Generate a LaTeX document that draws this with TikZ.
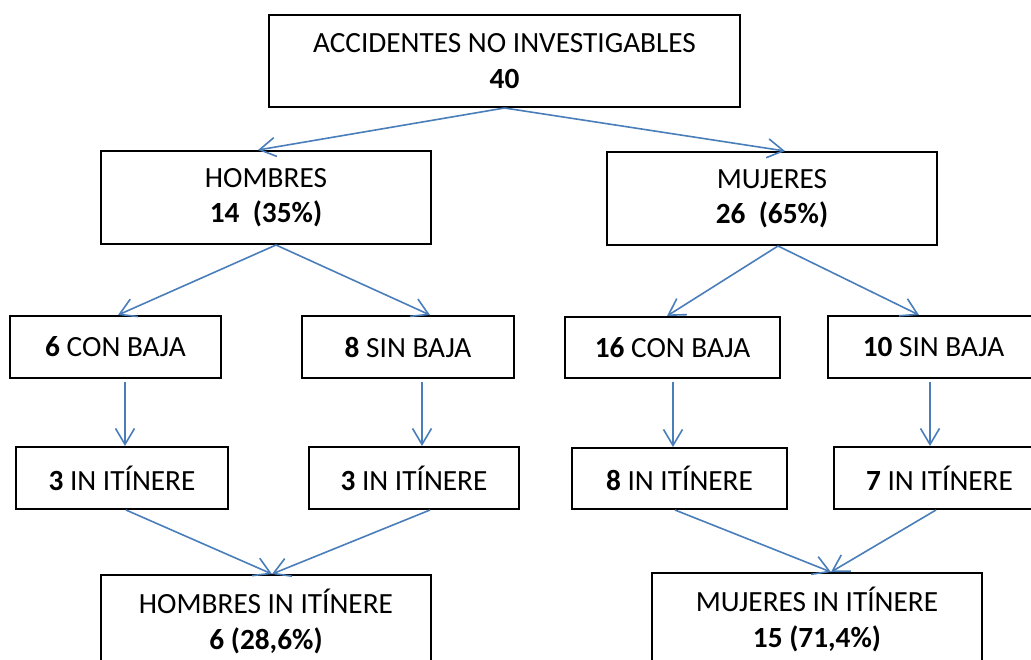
\documentclass[tikz,border=0pt]{standalone}
\usepackage{fontspec}
\setmainfont{Carlito}
\usetikzlibrary{arrows.meta}
\definecolor{arrowblue}{HTML}{4A7EBB}
\tikzset{
  box/.style={draw=black, line width=2pt, fill=white, align=center, inner sep=0pt,
    font=\fontsize{29.3}{35.5}\selectfont},
  conn/.style={draw=arrowblue, line width=1.6pt,
    -{Straight Barb[length=16pt,width=19pt,line width=1.6pt]}},
}
\begin{document}
\begin{tikzpicture}[x=1pt,y=-1pt]
\useasboundingbox (0,0) rectangle (1031,659);
\clip (0,0) rectangle (1031,659);
\fill[white] (0,0) rectangle (1031,659);
% nodes
\node[box, minimum width=471pt, minimum height=92pt] (top) at (504.5,61) {ACCIDENTES NO INVESTIGABLES\\\textbf{40}};
\node[box, minimum width=330pt, minimum height=93pt] (hom) at (266,197.5) {HOMBRES\\\textbf{14~~(35\%)}};
\node[box, minimum width=330pt, minimum height=93pt] (muj) at (772,198.5) {MUJERES\\\textbf{26~~(65\%)}};
\node[box, minimum width=211pt, minimum height=62pt] (a1) at (115.5,347) {\textbf{6} CON BAJA};
\node[box, minimum width=212pt, minimum height=62pt] (a2) at (408,347) {\textbf{8} SIN BAJA};
\node[box, minimum width=215pt, minimum height=61pt] (a3) at (672.5,347.5) {\textbf{16} CON BAJA};
\node[box, minimum width=211pt, minimum height=62pt] (a4) at (933.5,347) {\textbf{10} SIN BAJA};
\node[box, minimum width=212pt, minimum height=62pt] (b1) at (122,478) {\textbf{3} IN ITÍNERE};
\node[box, minimum width=210pt, minimum height=62pt] (b2) at (414,478) {\textbf{3} IN ITÍNERE};
\node[box, minimum width=215pt, minimum height=61pt] (b3) at (679.5,478.5) {\textbf{8} IN ITÍNERE};
\node[box, minimum width=211pt, minimum height=62pt] (b4) at (939.5,478) {\textbf{7} IN ITÍNERE};
\node[box, minimum width=330pt, minimum height=93pt] (c1) at (266,621.5) {HOMBRES IN ITÍNERE\\\textbf{6 (28,6\%)}};
\node[box, minimum width=330pt, minimum height=93pt] (c2) at (817,619.5) {MUJERES IN ITÍNERE\\\textbf{15 (71,4\%)}};
% connectors
\draw[conn] (top.south) -- ([xshift=-8pt]hom.north);
\draw[conn] (top.south) -- ([xshift=13pt]muj.north);
\draw[conn] ([xshift=10pt]hom.south) -- ([xshift=2.5pt]a1.north);
\draw[conn] ([xshift=10pt]hom.south) -- ([xshift=22pt]a2.north);
\draw[conn] ([xshift=6pt]muj.south) -- ([xshift=-5.5pt]a3.north);
\draw[conn] ([xshift=6pt]muj.south) -- ([xshift=-14.5pt]a4.north);
\draw[conn] ([xshift=9.5pt,yshift=-3pt]a1.south) -- ([xshift=3pt]b1.north);
\draw[conn] ([xshift=14pt,yshift=-3pt]a2.south) -- ([xshift=8pt]b2.north);
\draw[conn] ([xshift=0.5pt,yshift=-3pt]a3.south) -- ([xshift=-6.5pt]b3.north);
\draw[conn] ([xshift=-3.5pt,yshift=-3pt]a4.south) -- ([xshift=-9.5pt]b4.north);
\draw[conn] ([xshift=4pt]b1.south) -- ([xshift=6pt]c1.north);
\draw[conn] ([xshift=16pt]b2.south) -- ([xshift=6pt]c1.north);
\draw[conn] ([xshift=-4.5pt]b3.south) -- ([xshift=14pt]c2.north);
\draw[conn] ([xshift=-3.5pt]b4.south) -- ([xshift=14pt]c2.north);
\end{tikzpicture}
\end{document}
